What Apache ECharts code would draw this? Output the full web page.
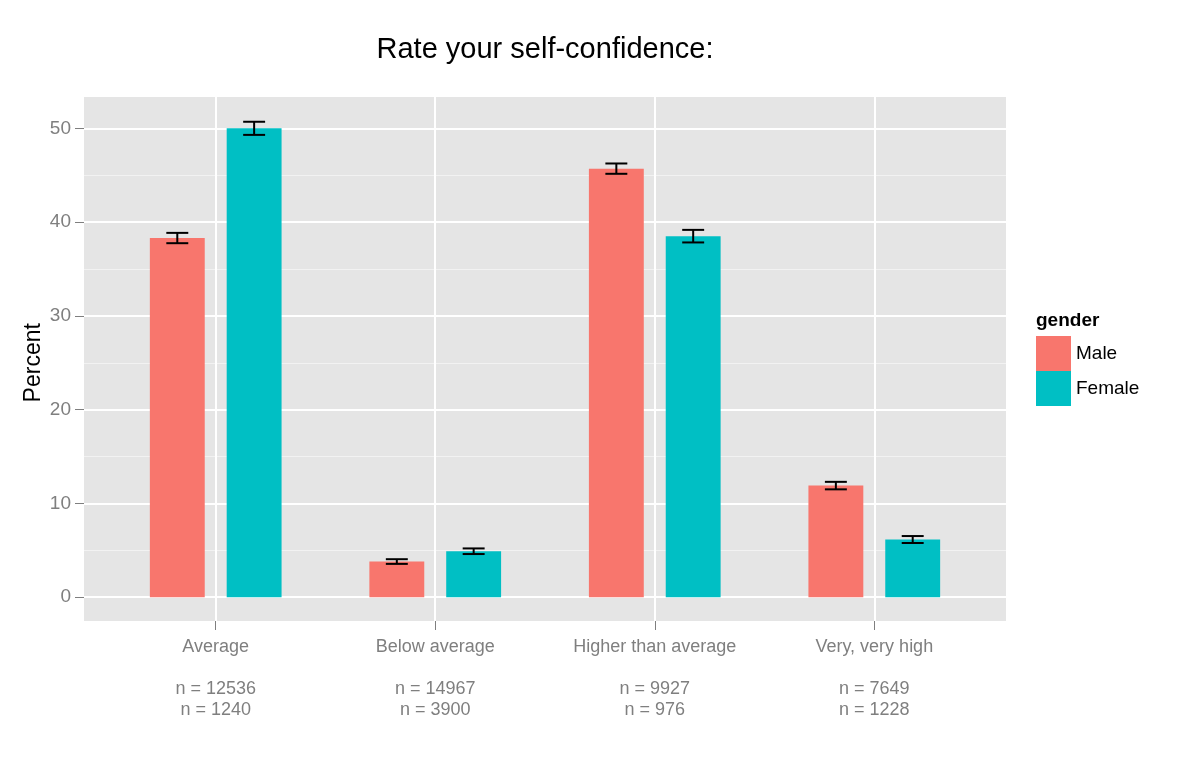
<!DOCTYPE html>
<html>
<head>
<meta charset="utf-8">
<script src="https://cdn.jsdelivr.net/npm/echarts@6/dist/echarts.min.js"></script>
<style>html,body{margin:0;padding:0;background:#fff}#c{width:1200px;height:763px}</style>
</head>
<body>
<div id="c"></div>
<script>
// ---- data ----
const categories = ["Average", "Below average", "Higher than average", "Very, very high"];
const seriesNames = ["Male", "Female"];
const maleValues = [38.3, 3.8, 45.7, 11.9];
const femaleValues = [50.0, 4.9, 38.5, 6.15];
const maleErrors = [0.55, 0.25, 0.55, 0.4];
const femaleErrors = [0.7, 0.3, 0.67, 0.37];
const maleN = [12536, 14967, 9927, 7649];
const femaleN = [1240, 3900, 976, 1228];
const yTicks = [0, 10, 20, 30, 40, 50];
const legendTitle = "gender";
const chartTitle = "Rate your self-confidence:";
const yName = "Percent";

// ---- layout ----
const FONT = "'Liberation Sans', Arial, Helvetica, sans-serif";
const PLOT = {left: 84, right: 1006, top: 97, bottom: 621};
const Y_EXT = [-2.54, 53.34];
const pxPerUnit = (PLOT.bottom - PLOT.top) / (Y_EXT[1] - Y_EXT[0]);
const yPx = v => PLOT.bottom - (v - Y_EXT[0]) * pxPerUnit;
const band = (PLOT.right - PLOT.left) / (categories.length - 1 + 1.2);
const catLeft = PLOT.left + 0.6 * band;
const catRight = PLOT.right - 0.6 * band;
const BAR_FRAC = 0.25, GAP_FRAC = 0.1, CAP_FRAC = 0.1;
const GREY = '#7F7F7F';
const colors = ['#F8766D', '#00BFC4'];

const chart = echarts.init(document.getElementById('c'), null, {renderer: 'canvas'});

function errSeries(name, values, errs, sign) {
  return {
    type: 'custom', name: name, xAxisIndex: 2, yAxisIndex: 2, clip: false, z: 5,
    encode: {x: 0, y: 1},
    data: values.map((v, i) => [categories[i], v, errs[i]]),
    renderItem: function (params, api) {
      const idx = api.value(0), v = api.value(1), e = api.value(2);
      const bw = api.size([1, 0])[0];
      const off = sign * (BAR_FRAC + GAP_FRAC) / 2 * bw;
      const cap = CAP_FRAC * bw / 2;
      const top = api.coord([idx, v + e]);
      const bot = api.coord([idx, v - e]);
      const x = top[0] + off;
      const st = {stroke: '#000', lineWidth: 2};
      return {type: 'group', children: [
        {type: 'line', shape: {x1: x, y1: top[1], x2: x, y2: bot[1]}, style: st},
        {type: 'line', shape: {x1: x - cap, y1: top[1], x2: x + cap, y2: top[1]}, style: st},
        {type: 'line', shape: {x1: x - cap, y1: bot[1], x2: x + cap, y2: bot[1]}, style: st}
      ]};
    }
  };
}

const option = {
  animation: false,
  textStyle: {fontFamily: FONT},
  title: [
    {text: chartTitle, left: (PLOT.left + PLOT.right) / 2, textAlign: 'center', top: 35, padding: 0,
     textStyle: {fontSize: 29, fontWeight: 'normal', color: '#000', fontFamily: FONT}},
    {text: legendTitle, left: 1036, top: 311, padding: 0,
     textStyle: {fontSize: 19, fontWeight: 'bold', color: '#000', fontFamily: FONT}}
  ],
  legend: {
    data: seriesNames, orient: 'vertical', left: 1036, top: 336,
    itemWidth: 35, itemHeight: 35, itemGap: 0, icon: 'rect', padding: 0,
    textStyle: {fontSize: 19, color: '#000', fontFamily: FONT}
  },
  grid: [
    {left: PLOT.left, width: PLOT.right - PLOT.left, top: PLOT.top, height: PLOT.bottom - PLOT.top,
     show: true, backgroundColor: '#E5E5E5', borderWidth: 0, z: -5},
    {left: PLOT.left, width: PLOT.right - PLOT.left, top: yPx(yTicks[yTicks.length - 1]),
     height: yPx(yTicks[0]) - yPx(yTicks[yTicks.length - 1])},
    {left: catLeft, width: catRight - catLeft, top: PLOT.top, height: PLOT.bottom - PLOT.top}
  ],
  xAxis: [
    {gridIndex: 0, type: 'value', show: false},
    {gridIndex: 1, type: 'value', show: false},
    {gridIndex: 2, type: 'category', data: categories, boundaryGap: false, position: 'bottom',
     axisLine: {show: false, onZero: false},
     axisTick: {show: true, length: 9, interval: 0, lineStyle: {color: GREY, width: 1}},
     splitLine: {show: true, interval: 0, lineStyle: {color: '#FFFFFF', width: 2}},
     axisLabel: {interval: 0, color: GREY, fontSize: 18, lineHeight: 21, margin: 16, fontFamily: FONT,
       formatter: (val, i) => val + '\n\nn = ' + maleN[i] + '\nn = ' + femaleN[i]}}
  ],
  yAxis: [
    {gridIndex: 0, type: 'value', show: false},
    {gridIndex: 1, type: 'value', min: yTicks[0], max: yTicks[yTicks.length - 1], interval: yTicks[1] - yTicks[0],
     axisLine: {show: false},
     axisTick: {show: true, length: 9, lineStyle: {color: GREY, width: 1}},
     axisLabel: {color: GREY, fontSize: 19, margin: 13, fontFamily: FONT},
     splitLine: {show: true, lineStyle: {color: '#FFFFFF', width: 2}},
     minorTick: {show: false, splitNumber: 2},
     minorSplitLine: {show: true, lineStyle: {color: '#F2F2F2', width: 1}},
     name: yName, nameLocation: 'middle', nameGap: 39, nameMoveOverlap: false,
     nameTextStyle: {color: '#000', fontSize: 23, fontFamily: FONT}},
    {gridIndex: 2, type: 'value', min: Y_EXT[0], max: Y_EXT[1], show: false}
  ],
  series: [
    {type: 'bar', name: seriesNames[0], xAxisIndex: 2, yAxisIndex: 2, data: maleValues, clip: false,
     barWidth: BAR_FRAC * band, barGap: (GAP_FRAC / BAR_FRAC * 100) + '%', itemStyle: {color: colors[0]}},
    {type: 'bar', name: seriesNames[1], xAxisIndex: 2, yAxisIndex: 2, data: femaleValues, clip: false,
     barWidth: BAR_FRAC * band, barGap: (GAP_FRAC / BAR_FRAC * 100) + '%', itemStyle: {color: colors[1]}},
    errSeries(seriesNames[0] + ' error', maleValues, maleErrors, -1),
    errSeries(seriesNames[1] + ' error', femaleValues, femaleErrors, 1)
  ]
};
chart.setOption(option);
</script>
</body>
</html>
